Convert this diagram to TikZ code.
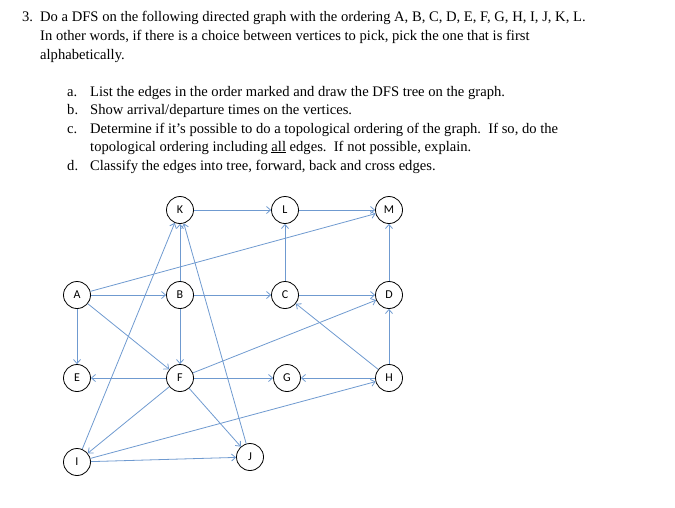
\documentclass[tikz,border=0pt]{standalone}
\usepackage{fontspec}
\setmainfont{Liberation Serif}
\newfontfamily\vfont{Carlito}
\usetikzlibrary{arrows.meta}
\definecolor{edgeblue}{HTML}{6F9AD0}
\tikzset{
	vertice/.style={circle, draw=black, thick, fill=white, minimum size=27pt, inner sep=0pt, font=\vfont\fontsize{12}{12}\selectfont},
	txt/.style={anchor=base west, inner sep=0pt, font=\fontsize{14.6}{19}\selectfont},
	arc/.style={draw=edgeblue, thick, -{Straight Barb[length=4pt,width=7pt]}}
}
\begin{document}
\begin{tikzpicture}[x=1pt,y=-1pt]
	\useasboundingbox (0,0) rectangle (675,507);
	\node[txt] (n3) at (22,21) {3.};
	\node[txt] (l1) at (40,21) {Do a DFS on the following directed graph with the ordering A, B, C, D, E, F, G, H, I, J, K, L.};
	\node[txt] (l2) at (40,40) {In other words, if there is a choice between vertices to pick, pick the one that is first};
	\node[txt] (l3) at (40,59) {alphabetically.};
	\node[txt] (ia) at (67,96) {a.};
	\node[txt] (ta) at (90,96) {List the edges in the order marked and draw the DFS tree on the graph.};
	\node[txt] (ib) at (67,114) {b.};
	\node[txt] (tb) at (90,114) {Show arrival/departure times on the vertices.};
	\node[txt] (ic) at (67,133) {c.};
	\node[txt] (tc) at (90,133) {Determine if it's possible to do a topological ordering of the graph.\ \ If so, do the};
	\node[txt] (tc2) at (90,151) {topological ordering including \underline{all} edges.\ \ If not possible, explain.};
	\node[txt] (id) at (67,170) {d.};
	\node[txt] (td) at (90,170) {Classify the edges into tree, forward, back and cross edges.};
	% vertices
	\node[vertice] (K) at (180,210) {K};
	\node[vertice] (L) at (285,210) {L};
	\node[vertice] (M) at (389,210) {M};
	\node[vertice] (A) at (77,295) {A};
	\node[vertice] (B) at (180,295) {B};
	\node[vertice] (C) at (285,295) {C};
	\node[vertice] (D) at (389,295) {D};
	\node[vertice] (E) at (77,378) {E};
	\node[vertice] (F) at (180,378) {F};
	\node[vertice] (G) at (287,378) {G};
	\node[vertice] (H) at (389,378) {H};
	\node[vertice] (I) at (77,462) {I};
	\node[vertice] (J) at (250,457) {J};
	% edges
	\foreach \u/\v in {K/L, L/M, A/M, C/L, D/M, A/B, B/K, B/C, C/D, A/E, A/F, B/F,
		F/E, F/G, F/D, H/G, H/C, H/D, F/I, F/J, I/K, J/K, I/H, I/J}
		\draw[arc] (\u) -- (\v);
\end{tikzpicture}
\end{document}
